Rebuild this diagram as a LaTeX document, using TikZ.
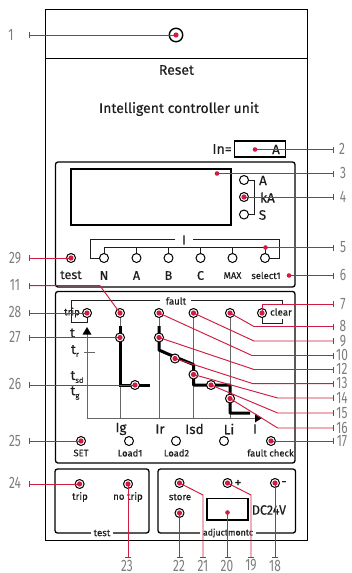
\documentclass[tikz,border=0pt]{standalone}
\usepackage{fontspec}
\setmainfont[FakeBold=0.35]{Fira Sans}
\newfontfamily\numf{Fira Sans}
\usetikzlibrary{arrows.meta}
\definecolor{leadred}{RGB}{208,28,66}
\definecolor{numgray}{RGB}{125,125,125}
\definecolor{inkc}{RGB}{30,30,30}
\tikzset{
 x=1pt,y=-1pt,
 panel/.style={draw=black,line width=1.3pt,rounded corners=2.5pt},
 frame/.style={draw=black,line width=1pt},
 thin line/.style={draw=inkc,line width=1pt},
 gline/.style={draw=black!60,line width=1pt},
 thick curve/.style={draw=black,line width=3pt},
 lead/.style={draw=leadred,line width=.95pt,-{Bar[width=6pt,line width=.95pt,length=1pt]}},
 btn/.style={circle,draw=black,line width=1pt,fill=white,minimum size=9pt,inner sep=0pt},
 dot/.style={circle,fill=leadred,minimum size=5.2pt,inner sep=0pt},
 small dot/.style={circle,fill=leadred,minimum size=4.6pt,inner sep=0pt},
 lab/.style={inner sep=0pt,text=numgray,font=\numf\fontsize{16.5}{16.5}\selectfont},
 txt/.style={inner sep=0pt,text=inkc,font=\fontsize{9.7}{10}\selectfont},
 head/.style={inner sep=0pt,text=inkc,font=\fontsize{14}{14}\selectfont},
 big/.style={inner sep=0pt,text=inkc,font=\fontsize{13.5}{13.5}\selectfont},
 mid/.style={inner sep=0pt,text=inkc,font=\fontsize{12.5}{12.5}\selectfont},
 smalltxt/.style={inner sep=0pt,text=inkc,font=\fontsize{9.4}{10}\selectfont},
}
\newcommand{\nar}[1]{\scalebox{.72}[1]{#1}}
\begin{document}
\begin{tikzpicture}
\useasboundingbox (0,0) rectangle (352,573);
\fill[white] (0,0) rectangle (352,573);
% frames
\draw[frame] (45.5,9) rectangle (307,540);
\draw[frame] (45.5,58.5) -- (307,58.5);
\node[head] (reset) at (176.5,70) {Reset};
\node[head] (title) at (179,109) {Intelligent controller unit};
\node[head,anchor=east] (in) at (232,149) {In=};
\draw[frame,line width=1.3pt] (234.5,141) rectangle (285.5,157);
\node[big] (inA) at (276,149.5) {A};
% panels
\draw[panel] (55.5,162) rectangle (295,287);
\draw[panel] (55.5,291.5) rectangle (295,463);
\draw[panel] (55,469) rectangle (149,533);
\draw[panel] (158,469) rectangle (295.5,533);
\node[txt,fill=white,inner xsep=3pt] (ptest) at (102,533) {test};
\node[txt,fill=white,inner xsep=3pt,font=\fontsize{8.8}{10}\selectfont] (padj) at (228,533) {adjuctmontc};
% display panel
\draw[frame,line width=1.3pt] (71,169) rectangle (231,225);
\draw[thin line] (244,180) -- (254,180) -- (254,214.5) -- (244,214.5);
\draw[thin line] (244,197) -- (254,197);
\node[btn] (ledA) at (244,180) {};
\node[btn] (ledK) at (244,197) {};
\node[btn] (ledS) at (244,214.5) {};
\node[big] (tA) at (263,180.5) {A};
\node[big] (tK) at (267.5,197.5) {kA};
\node[big] (tS) at (262.5,215) {S};
\draw[thin line] (175,239.5) -- (90,239.5) -- (90,258) -- (104,258);
\draw[thin line] (193,239.5) -- (279,239.5) -- (279,258) -- (265,258);
\draw[thin line] (103.5,247.5) -- (265.5,247.5);
\foreach \n/\x in {sN/104,sA/136.5,sB/168.5,sC/200.5,sM/232.5,sS/265}{
  \draw[thin line] (\x,247.5) -- (\x,258);
  \node[btn] (\n) at (\x,258) {};
}
\node[big] (tI) at (184,240) {I};
\node[mid] (lN) at (104,275.5) {N};
\node[mid] (lA) at (136.5,275.5) {A};
\node[mid] (lB) at (168.5,275.5) {B};
\node[mid] (lC) at (200.5,275.5) {C};
\node[smalltxt] (lM) at (232.5,275.5) {MAX};
\node[smalltxt] (lS) at (266,275.5) {select1};
\node[btn] (bTest) at (71,258) {};
\node[mid] (tTest) at (71,275) {test};
% fault panel
\node[txt] (tFault) at (176,301) {fault};
\draw[thin line] (160,300.7) -- (71,300.7) -- (71,322.5) -- (87,322.5) -- (87,313);
\draw[thin line] (191,300.7) -- (282,300.7) -- (282,304.5);
\draw[thin line] (262,313) -- (262,323) -- (282,323) -- (282,319);
\foreach \x in {120,159,193.5,230}{\draw[gline] (\x,313) -- (\x,418);}
\draw[gline] (87,334) -- (87,418) -- (256,418);
\fill[black] (87,327) -- (91.5,334.5) -- (82.5,334.5) -- cycle;
\fill[black] (262,418) -- (255,413.5) -- (255,422.5) -- cycle;
\draw[gline] (84,352.5) -- (95,352.5);
\draw[gline] (84,385) -- (120,385);
\draw[thick curve] (120,326) -- (120,385) -- (150,385);
\draw[thick curve,line join=bevel] (159,326) -- (159,350) -- (168,354) -- (193.5,364.5) -- (193.5,385) -- (230,385) -- (230,413) -- (250,413);
\node[txt] (tTrip) at (72,312.5) {trip};
\node[big] (tt) at (72.5,333) {t};
\node[big] (ttr) at (75,351) {t\raisebox{-3pt}{\fontsize{7.5}{7.5}\selectfont r}};
\node[big] (ttsd) at (77,377) {t\raisebox{-3pt}{\fontsize{7.5}{7.5}\selectfont sd}};
\node[big] (ttg) at (75,393) {t\raisebox{-3pt}{\fontsize{7.5}{7.5}\selectfont g}};
\node[big] (lIg) at (121,429) {Ig};
\node[big] (lIr) at (160,429) {Ir};
\node[big] (lIsd) at (194.5,429) {Isd};
\node[big] (lLi) at (229,429) {Li};
\node[big] (lI) at (255,429) {I};
\node[btn] (bTrip) at (87,313) {};
\node[btn] (bIg) at (120,313) {};
\node[btn] (bIr) at (159,313) {};
\node[btn] (bIsd) at (193.5,313) {};
\node[btn] (bLi) at (230,313) {};
\node[btn] (bClr) at (262,313) {};
\node[txt] (tClr) at (281,312) {clear};
\node[btn] (m27) at (120,337.5) {};
\node[btn] (m12) at (159,337.5) {};
\node[btn] (m13) at (175,358.5) {};
\node[btn] (m26) at (135,385) {};
\node[btn] (m14) at (193.5,374.5) {};
\node[btn] (m15) at (211,385) {};
\node[btn] (m16) at (230,398.5) {};
\node[btn] (bSet) at (81,441) {};
\node[btn] (bL1) at (129,441) {};
\node[btn] (bL2) at (176,441) {};
\node[btn] (bL3) at (224,441) {};
\node[btn] (bFc) at (271,441) {};
\node[smalltxt] (tSet) at (81,453) {SET};
\node[smalltxt] (tL1) at (130,453) {Load1};
\node[smalltxt] (tL2) at (176.5,453) {Load2};
\node[smalltxt] (tFc) at (270.5,453) {fault check};
% bottom panels
\node[btn] (bT) at (79.6,484) {};
\node[btn] (bNT) at (128,484) {};
\node[btn] (bSt) at (179.5,483) {};
\node[btn] (bSb) at (179.5,513) {};
\node[btn] (bP) at (227.5,483) {};
\node[btn] (bM) at (275,483) {};
\node[txt] (tT) at (80,497) {trip};
\node[txt] (tNT) at (128,497) {no trip};
\node[txt] (tSt) at (180,497) {store};
\node[big] (tP) at (238,483.5) {+};
\node[big] (tM) at (284,483.5) {-};
\draw[frame,line width=1.4pt] (207,498.5) rectangle (248,520);
\node[big] (tDC) at (269,510) {\scalebox{.92}[1]{DC24V}};
% leader end points
\foreach \n/\y in {e2/149.5,e3/173.5,e4/197,e5/247.5,e6/275.5,e7/304.3,e8/326.5,e9/341,e10/355.5,e12/369.5,e13/383.7,e14/398,e15/413,e16/428,e17/441}{
  \coordinate (\n) at (334,\y);
}
\foreach \n/\y in {e1/35,e29/258,e11/285.7,e28/313,e27/337.5,e26/385,e25/441,e24/484}{
  \coordinate (\n) at (29,\y);
}
\foreach \n/\x in {e23/128,e22/179.5,e21/203,e20/227.5,e19/251,e18/275}{
  \coordinate (\n) at (\x,558);
}
% top reset button
\node[circle,draw=black,line width=1.4pt,fill=white,minimum size=13.5pt,inner sep=0pt] (bRes) at (176,35) {};
% dots
\foreach \n in {bRes,ledK,bTest,bTrip,bIg,bIr,bIsd,bLi,bClr,m27,m12,m13,m26,m14,m15,m16,bSet,bFc,bT,bNT,bSt,bSb,bP,bM}{
  \node[dot] (d\n) at (\n) {};
}
\node[small dot] (d2) at (255,149.5) {};
\node[small dot] (d3) at (217,173.5) {};
\node[small dot] (d5) at (265.5,247.5) {};
\node[small dot] (d6) at (289,275.5) {};
\node[small dot] (d20) at (227.5,512.5) {};
% leaders
\draw[lead] (dbRes.center) -- (e1);
\draw[lead] (d2.center) -- (e2);
\draw[lead] (d3.center) -- (e3);
\draw[lead] (dledK.center) -- (e4);
\draw[lead] (d5.center) -- (e5);
\draw[lead] (d6.center) -- (e6);
\draw[lead] (dbTest.center) -- (e29);
\draw[lead] (dbIg.center) -- (100,285.7) -- (e11);
\draw[lead] (dbTrip.center) -- (e28);
\draw[lead] (dm27.center) -- (e27);
\draw[lead] (dm26.center) -- (e26);
\draw[lead] (dbSet.center) -- (e25);
\draw[lead] (dbT.center) -- (e24);
\draw[lead] (dbClr.center) -- (262,304.3) -- (e7);
\draw[lead] (dbLi.center) -- (254,326.5) -- (e8);
\draw[lead] (dbIsd.center) -- (254,341) -- (e9);
\draw[lead] (dbIr.center) -- (252,355.5) -- (e10);
\draw[lead] (dm12.center) -- (254,369.5) -- (e12);
\draw[lead] (dm13.center) -- (253,383.7) -- (e13);
\draw[lead] (dm14.center) -- (277.7,398) -- (e14);
\draw[lead] (dm15.center) -- (277.7,413) -- (e15);
\draw[lead] (dm16.center) -- (277.7,428) -- (e16);
\draw[lead] (dbFc.center) -- (e17);
\draw[lead] (dbNT.center) -- (e23);
\draw[lead] (dbSb.center) -- (e22);
\draw[lead] (dbSt.center) -- (203,495) -- (e21);
\draw[lead] (d20.center) -- (e20);
\draw[lead] (dbP.center) -- (251,495) -- (e19);
\draw[lead] (dbM.center) -- (e18);
% numbers
\foreach \n/\x/\y/\t in {n1/11/35/1,n29/15/258/29,n11/15/285/11,n28/15/312/28,n27/15/337/27,n26/15/384/26,n25/15/441/25,n24/15/483/24,
 n2/342/149/2,n3/343/173/3,n4/343/197/4,n5/343/247/5,n6/343/275/6,n7/343/304/7,n8/343/326/8,n9/343/341/9,n10/342/355/10,n12/342/369/12,n13/342/383/13,n14/342/398/14,n15/342/413/15,n16/342/428/16,n17/342/441/17,
 n23/127/565.5/23,n22/179/565.5/22,n21/203/565.5/21,n20/227/565.5/20,n19/251/565.5/19,n18/275/565.5/18}{
  \node[lab] (\n) at (\x,\y) {\nar{\t}};
}
\end{tikzpicture}
\end{document}
